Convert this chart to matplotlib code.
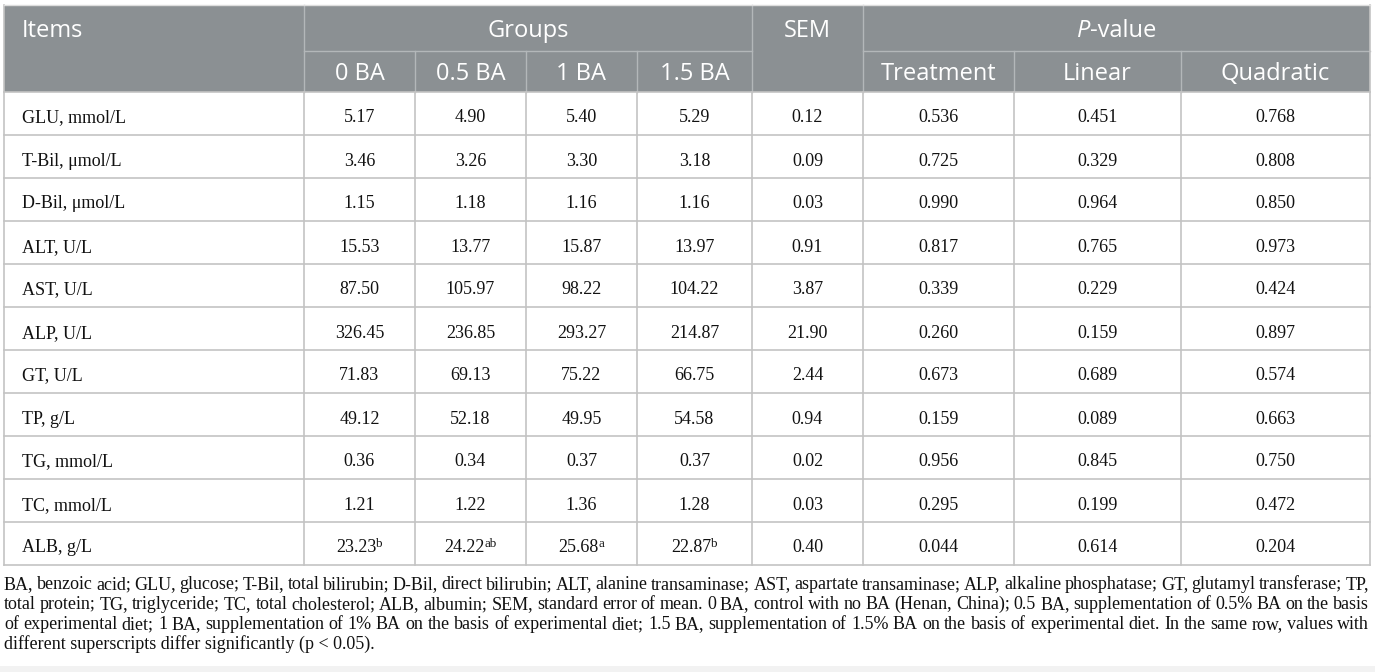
import numpy as np
import matplotlib
matplotlib.use("Agg")
import matplotlib.pyplot as plt
from matplotlib.patches import Rectangle

# table content
items = ["GLU, mmol/L", "T-Bil, \u03bcmol/L", "D-Bil, \u03bcmol/L", "ALT, U/L", "AST, U/L",
         "ALP, U/L", "GT, U/L", "TP, g/L", "TG, mmol/L", "TC, mmol/L", "ALB, g/L"]
groups = ["0 BA", "0.5 BA", "1 BA", "1.5 BA"]
ba_0 = [5.17, 3.46, 1.15, 15.53, 87.50, 326.45, 71.83, 49.12, 0.36, 1.21, 23.23]
ba_05 = [4.90, 3.26, 1.18, 13.77, 105.97, 236.85, 69.13, 52.18, 0.34, 1.22, 24.22]
ba_1 = [5.40, 3.30, 1.16, 15.87, 98.22, 293.27, 75.22, 49.95, 0.37, 1.36, 25.68]
ba_15 = [5.29, 3.18, 1.16, 13.97, 104.22, 214.87, 66.75, 54.58, 0.37, 1.28, 22.87]
sem = [0.12, 0.09, 0.03, 0.91, 3.87, 21.90, 2.44, 0.94, 0.02, 0.03, 0.40]
p_treat = [0.536, 0.725, 0.990, 0.817, 0.339, 0.260, 0.673, 0.159, 0.956, 0.295, 0.044]
p_linear = [0.451, 0.329, 0.964, 0.765, 0.229, 0.159, 0.689, 0.089, 0.845, 0.199, 0.614]
p_quad = [0.768, 0.808, 0.850, 0.973, 0.424, 0.897, 0.574, 0.663, 0.750, 0.472, 0.204]
# superscript letters (ALB row only)
sup_0 = [""] * 10 + ["b"]
sup_05 = [""] * 10 + ["ab"]
sup_1 = [""] * 10 + ["a"]
sup_15 = [""] * 10 + ["b"]
p_labels = ["Treatment", "Linear", "Quadratic"]

footnote = [
    "BA, benzoic acid; GLU, glucose; T-Bil, total bilirubin; D-Bil, direct bilirubin; ALT, alanine transaminase; AST, aspartate transaminase; ALP, alkaline phosphatase; GT, glutamyl transferase; TP,",
    "total protein; TG, triglyceride; TC, total cholesterol; ALB, albumin; SEM, standard error of mean. 0 BA, control with no BA (Henan, China); 0.5 BA, supplementation of 0.5% BA on the basis",
    "of experimental diet; 1 BA, supplementation of 1% BA on the basis of experimental diet; 1.5 BA, supplementation of 1.5% BA on the basis of experimental diet. In the same row, values with",
    "different superscripts differ significantly (p < 0.05).",
]

W, H = 1375, 672
HEAD_BG = "#8b9093"
HEAD_SEP = "#b3b7b9"
GRID = "#c3c3c3"
SANS = "Open Sans"
SERIF = "Liberation Serif"
HSIZE = 17
DSIZE = 13

fig = plt.figure(figsize=(W / 100, H / 100), dpi=100)
ax = fig.add_axes([0, 0, 1, 1])
ax.set_xlim(0, W)
ax.set_ylim(H, 0)
ax.axis("off")
renderer = fig.canvas.get_renderer()

# column edges and row edges (pixels)
xe = [4, 304, 415, 526, 637, 752, 863, 1014, 1181, 1370]
top, hmid, hbot, tbot = 5, 51, 92, 565
nrows = len(items)
ye = np.linspace(hbot, tbot, nrows + 1)


def runs(x, y, parts, ha="center"):
    objs = []
    for s, kw, dy in parts:
        objs.append(ax.text(0, y + dy, s, va="baseline", ha="left", **kw))
    ws = [t.get_window_extent(renderer).width for t in objs]
    start = x - sum(ws) / 2 if ha == "center" else x
    for t, w in zip(objs, ws):
        t.set_x(start)
        start += w


def justify(x0, x1, y, line, **kw):
    words = line.split(" ")
    objs = [ax.text(0, y, w, va="baseline", ha="left", **kw) for w in words]
    ws = [t.get_window_extent(renderer).width for t in objs]
    gap = (x1 - x0 - sum(ws)) / (len(words) - 1)
    x = x0
    for t, w in zip(objs, ws):
        t.set_x(x)
        x += w + gap


# faint strip at the very bottom
ax.add_patch(Rectangle((0, 666), W, H - 666, color="#f2f2f2", lw=0))

# header background
ax.add_patch(Rectangle((xe[0], top), xe[-1] - xe[0], hbot - top, color=HEAD_BG, lw=0))
hw = dict(color="white", fontsize=HSIZE, family=SANS)
b1, b2 = 37, 80
ax.text(22, b1, "Items", va="baseline", ha="left", **hw)
ax.text((xe[1] + xe[5]) / 2, b1, "Groups", va="baseline", ha="center", **hw)
ax.text((xe[5] + xe[6]) / 2, b1, "SEM", va="baseline", ha="center", **hw)
runs((xe[6] + xe[9]) / 2, b1, [("P", dict(hw, style="italic"), 0), ("-value", hw, 0)])
for i, g in enumerate(groups):
    ax.text((xe[1 + i] + xe[2 + i]) / 2, b2, g, va="baseline", ha="center", **hw)
for i, p in enumerate(p_labels):
    ax.text((xe[6 + i] + xe[7 + i]) / 2, b2, p, va="baseline", ha="center", **hw)

# header separators
for x in xe[1:-1]:
    y0 = top if x in (xe[1], xe[5], xe[6]) else hmid
    ax.plot([x, x], [y0, hbot], color=HEAD_SEP, lw=1)
ax.plot([xe[1], xe[5]], [hmid, hmid], color=HEAD_SEP, lw=1)
ax.plot([xe[6], xe[9]], [hmid, hmid], color=HEAD_SEP, lw=1)

# body grid
for y in ye:
    ax.plot([xe[0], xe[-1]], [y, y], color=GRID, lw=1.2)
for x in xe:
    ax.plot([x, x], [hbot, tbot], color=GRID, lw=1.2)
ax.plot([xe[0], xe[0]], [top, hbot], color=GRID, lw=1.2)
ax.plot([xe[-1], xe[-1]], [top, hbot], color=GRID, lw=1.2)
ax.plot([xe[0], xe[-1]], [top, top], color="#dddddd", lw=1)

# body text
dw = dict(color="#111111", fontsize=DSIZE, family=SERIF)
sw = dict(color="#111111", fontsize=DSIZE * 0.72, family=SERIF)
cols = [(ba_0, sup_0, 2), (ba_05, sup_05, 2), (ba_1, sup_1, 2), (ba_15, sup_15, 2),
        (sem, None, 2), (p_treat, None, 3), (p_linear, None, 3), (p_quad, None, 3)]
for r in range(nrows):
    yb = round((ye[r] + ye[r + 1]) / 2 + 9)
    ax.text(22, yb, items[r], va="baseline", ha="left", **dw)
    for c, (vals, sups, nd) in enumerate(cols):
        xc = (xe[1 + c] + xe[2 + c]) / 2
        s = f"{vals[r]:.{nd}f}"
        if sups and sups[r]:
            runs(xc, yb, [(s, dw, 0), (sups[r], sw, -5)])
        else:
            ax.text(xc, yb, s, va="baseline", ha="center", **dw)

# footnote
fw = dict(color="#111111", fontsize=DSIZE, family=SERIF)
fy = [589, 609, 629, 649]
for i, line in enumerate(footnote):
    if i < len(footnote) - 1:
        justify(4, 1369, fy[i], line, **fw)
    else:
        ax.text(4, fy[i], line, va="baseline", ha="left", **fw)

fig.savefig("out.png", dpi=100)
